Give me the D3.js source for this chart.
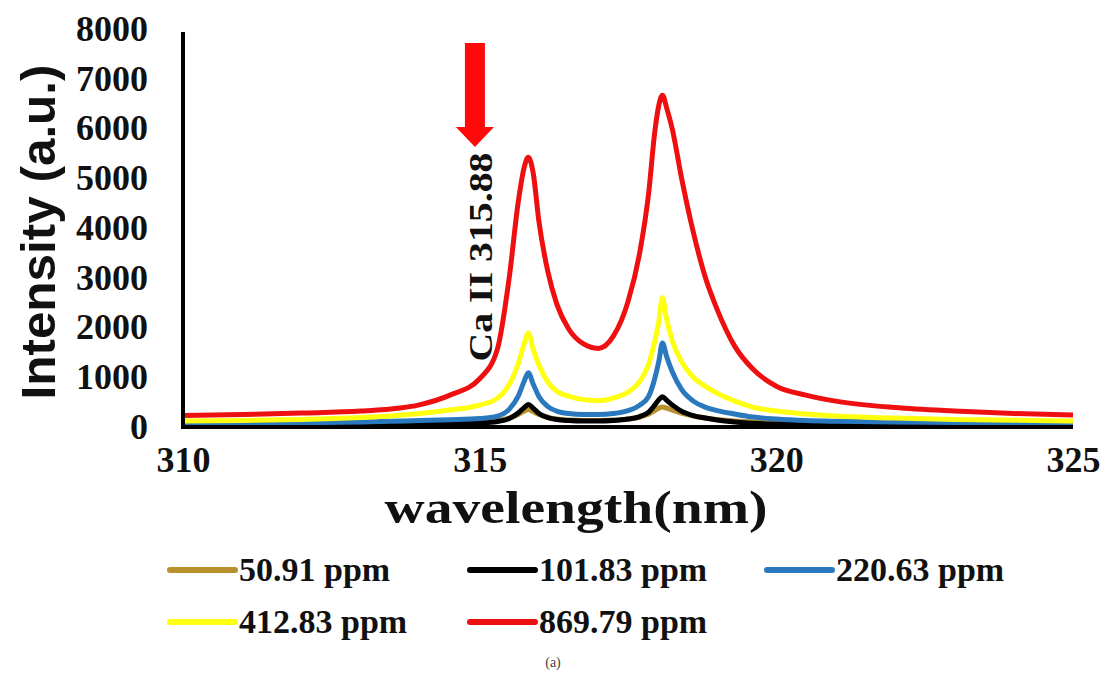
<!DOCTYPE html>
<html>
<head>
<meta charset="utf-8">
<script src="https://cdn.jsdelivr.net/npm/d3@7"></script>
<style>
  html, body { margin: 0; padding: 0; background: #fff; }
  svg { display: block; }
</style>
</head>
<body>
<svg id="chart" width="1107" height="687"></svg>
<script>
// Emission spectra of Ca II around 315.88 nm for five concentrations
const wavelengths = [310, 311, 312, 313, 313.5, 314, 314.5, 315, 315.3, 315.5, 315.65, 315.75, 315.82, 315.9,
  316.0, 316.15, 316.3, 316.5, 316.75, 317.0, 317.25, 317.5, 317.7, 317.85, 317.95, 318.02, 318.08, 318.15,
  318.25, 318.4, 318.6, 318.8, 319.0, 319.3, 319.6, 320.0, 320.5, 321, 322, 323, 324, 325];

const ppm50 = [40, 42, 45, 50, 55, 60, 70, 85, 110, 160, 230, 300, 330, 290,
  230, 170, 140, 120, 110, 110, 120, 140, 180, 240, 310, 360, 380, 360,
  320, 260, 200, 160, 130, 100, 80, 65, 55, 50, 45, 42, 40, 40];

const ppm101 = [10, 12, 15, 20, 25, 30, 45, 60, 90, 150, 260, 370, 430, 360,
  250, 170, 130, 110, 100, 100, 110, 140, 190, 280, 420, 530, 590, 520,
  420, 300, 210, 160, 120, 80, 55, 40, 30, 25, 18, 15, 12, 10];

const ppm220 = [50, 55, 65, 80, 95, 110, 125, 150, 200, 340, 600, 900, 1070, 850,
  590, 390, 300, 250, 230, 230, 250, 310, 420, 600, 950, 1300, 1670, 1400,
  1080, 740, 500, 380, 310, 240, 180, 140, 110, 95, 80, 70, 65, 60];

const ppm412 = [100, 110, 130, 170, 200, 250, 320, 420, 560, 840, 1250, 1650, 1870, 1550,
  1220, 880, 700, 600, 530, 510, 560, 680, 900, 1250, 1700, 2100, 2580, 2150,
  1700, 1300, 980, 800, 660, 500, 380, 300, 240, 200, 160, 130, 115, 100];

const ppm869 = [210, 230, 260, 300, 340, 430, 620, 950, 1550, 3000, 4500, 5200, 5400, 5100,
  4100, 3100, 2450, 1950, 1650, 1560, 1800, 2500, 3500, 4700, 5900, 6450, 6650, 6400,
  5950, 5000, 3900, 3000, 2350, 1600, 1150, 800, 620, 500, 370, 300, 250, 220];

const seriesNames = ["50.91 ppm", "101.83 ppm", "220.63 ppm", "412.83 ppm", "869.79 ppm"];
const seriesValues = [ppm50, ppm101, ppm220, ppm412, ppm869];
const seriesColors = ["#b8912c", "#000000", "#2a78bd", "#ffff10", "#ee1010"];

const xTicks = [310, 315, 320, 325];
const yTicks = [0, 1000, 2000, 3000, 4000, 5000, 6000, 7000, 8000];

// Peak annotation: arrow above the Ca II line
const annotationLabel = "Ca  II 315.88";
const arrowWavelength = 314.92;
const arrowTop = 7700, arrowShaftEnd = 6010, arrowTip = 5610;

const svg = d3.select("#chart");
const x = d3.scaleLinear().domain([310, 325]).range([183, 1073]);
const y = d3.scaleLinear().domain([0, 8000]).range([426, 28]);

const serif = "'Liberation Serif', 'Times New Roman', serif";

// Spectra
const line = d3.line()
  .x(d => x(d[0]))
  .y(d => y(d[1]))
  .curve(d3.curveMonotoneX);

seriesValues.forEach((vals, i) => {
  svg.append("path")
    .datum(wavelengths.map((w, j) => [w, vals[j]]))
    .attr("d", line)
    .attr("fill", "none")
    .attr("stroke", seriesColors[i])
    .attr("stroke-width", 5)
    .attr("stroke-linejoin", "round")
    .attr("stroke-linecap", "butt");
});

// Axes
const yAxis = d3.axisLeft(y).tickValues(yTicks).tickSize(0).tickPadding(35).tickFormat(d3.format("d"));
const gy = svg.append("g").attr("transform", `translate(${x(310)},0)`).call(yAxis);
gy.select(".domain").attr("stroke", "#000").attr("stroke-width", 4).attr("d", `M0,${y(0) + 2}V${y(7920)}`);
gy.selectAll("text")
  .attr("font-family", serif).attr("font-weight", "bold").attr("font-size", 36)
  .attr("fill", "#111").attr("dy", "0.34em");

const xAxis = d3.axisBottom(x).tickValues(xTicks).tickSize(0).tickPadding(29).tickFormat(d3.format("d"));
const gx = svg.append("g").attr("transform", `translate(0,${y(0) + 1})`).call(xAxis);
gx.select(".domain").attr("stroke", "#000").attr("stroke-width", 4).attr("d", `M${x(310) - 2},0H${x(325)}`);
gx.selectAll("text")
  .attr("font-family", serif).attr("font-weight", "bold").attr("font-size", 36)
  .attr("fill", "#111").attr("dy", "0.45em");

// Axis titles
svg.append("text")
  .attr("x", 576).attr("y", 523)
  .attr("text-anchor", "middle")
  .attr("font-family", serif).attr("font-weight", "bold").attr("font-size", 47)
  .attr("textLength", 383).attr("lengthAdjust", "spacingAndGlyphs")
  .attr("fill", "#111")
  .text("wavelength(nm)");

svg.append("text")
  .attr("transform", "translate(55,232) rotate(-90)")
  .attr("text-anchor", "middle")
  .attr("font-family", "'Liberation Sans', Arial, sans-serif").attr("font-weight", "bold").attr("font-size", 49)
  .attr("textLength", 335).attr("lengthAdjust", "spacingAndGlyphs")
  .attr("fill", "#111")
  .text("Intensity (a.u.)");

// Arrow and peak label
const ax = x(arrowWavelength);
svg.append("path")
  .attr("d", `M${ax - 10},${y(arrowTop)}H${ax + 10}V${y(arrowShaftEnd)}H${ax + 19}L${ax},${y(arrowTip)}L${ax - 19},${y(arrowShaftEnd)}H${ax - 10}Z`)
  .attr("fill", "#ff0a0a");

svg.append("text")
  .attr("transform", `translate(${ax + 17},257) rotate(-90)`)
  .attr("text-anchor", "middle")
  .attr("font-family", serif).attr("font-weight", "bold").attr("font-size", 34)
  .attr("textLength", 209).attr("lengthAdjust", "spacingAndGlyphs")
  .attr("fill", "#111")
  .text(annotationLabel);

// Legend
const legendPos = [[170, 570], [470, 570], [767, 570], [170, 622], [470, 622]];
seriesNames.forEach((name, i) => {
  const [lx, ly] = legendPos[i];
  const g = svg.append("g").attr("transform", `translate(${lx},${ly})`);
  g.append("line")
    .attr("x1", 0).attr("x2", 65).attr("y1", 0).attr("y2", 0)
    .attr("stroke", seriesColors[i]).attr("stroke-width", 6).attr("stroke-linecap", "round");
  g.append("text")
    .attr("x", 69).attr("y", 11)
    .attr("font-family", serif).attr("font-weight", "bold").attr("font-size", 34)
    .attr("fill", "#111")
    .text(name);
});

// Panel caption
svg.append("text")
  .attr("x", 553).attr("y", 667)
  .attr("text-anchor", "middle")
  .attr("font-family", serif).attr("font-size", 14)
  .attr("fill", "#444")
  .text("(a)");
</script>
</body>
</html>
